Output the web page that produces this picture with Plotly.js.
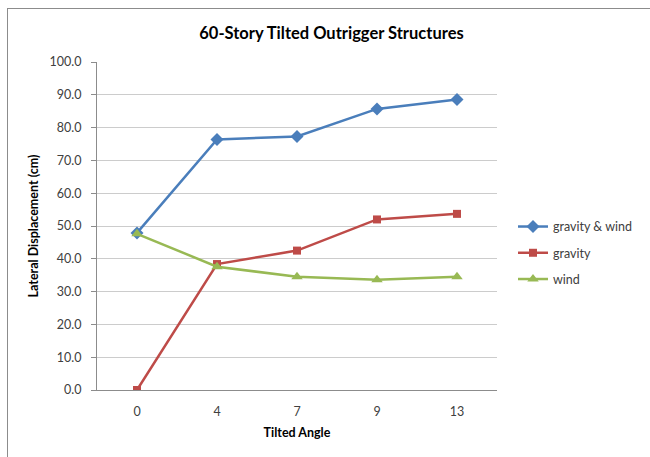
<!DOCTYPE html>
<html>
<head>
<meta charset="utf-8">
<script src="https://cdn.plot.ly/plotly-3.0.1.min.js"></script>
<style>
html,body{margin:0;padding:0;background:#fff;}
#frame{position:absolute;left:7px;top:8px;width:660px;height:470px;border:1.5px solid #8c8c8c;box-sizing:border-box;}
#chart{position:absolute;left:0;top:0;width:650px;height:457px;}
</style>
</head>
<body>
<div id="frame"></div>
<div id="chart"></div>
<script>
const categories = ['0', '4', '7', '9', '13'];
const gravityWind = [47.9, 76.4, 77.3, 85.7, 88.6];
const gravity = [0.0, 38.4, 42.5, 52.0, 53.7];
const wind = [47.6, 37.6, 34.5, 33.6, 34.5];
const yTicks = [0, 10, 20, 30, 40, 50, 60, 70, 80, 90, 100];

const mk = (name, y, color, symbol, size, group) => ({
  x: categories, y: y, name: name, type: 'scatter', mode: 'lines+markers',
  legendgroup: group,
  line: {color: color, width: 2.5},
  marker: {color: color, symbol: symbol, size: size}
});

const data = [
  mk('gravity &amp; wind', gravityWind, '#4A7EBB', 'diamond', 10, 'a'),
  mk('gravity', gravity, '#BE4B48', 'square', 8, 'b'),
  mk('wind', wind, '#98B954', 'triangle-up', 10, 'c')
];

const layout = {
  width: 650, height: 457,
  paper_bgcolor: 'rgba(0,0,0,0)', plot_bgcolor: 'rgba(0,0,0,0)',
  margin: {l: 97, r: 153, t: 62, b: 67},
  font: {family: 'Lato, "Open Sans", sans-serif', size: 12, color: '#404040'},
  title: {text: '<b>60-Story Tilted Outrigger Structures</b>', x: 0.51, xanchor: 'center', y: 0.928, yanchor: 'middle',
          font: {size: 16.5, color: '#000'}},
  xaxis: {
    type: 'category', range: [-0.5, 4.5],
    showgrid: false, showline: true, linecolor: '#8c8c8c', linewidth: 1,
    ticks: '', ticklabelstandoff: 10, tickfont: {size: 12.5, color: '#404040'},
    title: {text: '<b>Tilted Angle</b>', font: {size: 12.5, color: '#000'}, standoff: 10},
    fixedrange: true
  },
  yaxis: {
    range: [0, 100], tickvals: yTicks, ticktext: yTicks.map(v => v.toFixed(1)),
    showgrid: true, gridcolor: '#cccccc', gridwidth: 1, zeroline: false,
    showline: true, linecolor: '#8c8c8c', linewidth: 1,
    ticks: 'outside', ticklen: 5, tickcolor: '#8c8c8c', ticklabelstandoff: 7,
    tickfont: {size: 12.5, color: '#404040'},
    title: {text: '<b>Lateral Displacement (cm)</b>', font: {size: 12.5, color: '#000'}, standoff: 8},
    fixedrange: true
  },
  showlegend: true,
  legend: {x: 1.04, xanchor: 'left', y: 0.418, yanchor: 'middle', traceorder: 'grouped', tracegroupgap: 7,
           font: {size: 12.5, color: '#404040'}, bgcolor: 'rgba(0,0,0,0)'}
};

Plotly.newPlot('chart', data, layout, {displayModeBar: false, staticPlot: true});
</script>
</body>
</html>
